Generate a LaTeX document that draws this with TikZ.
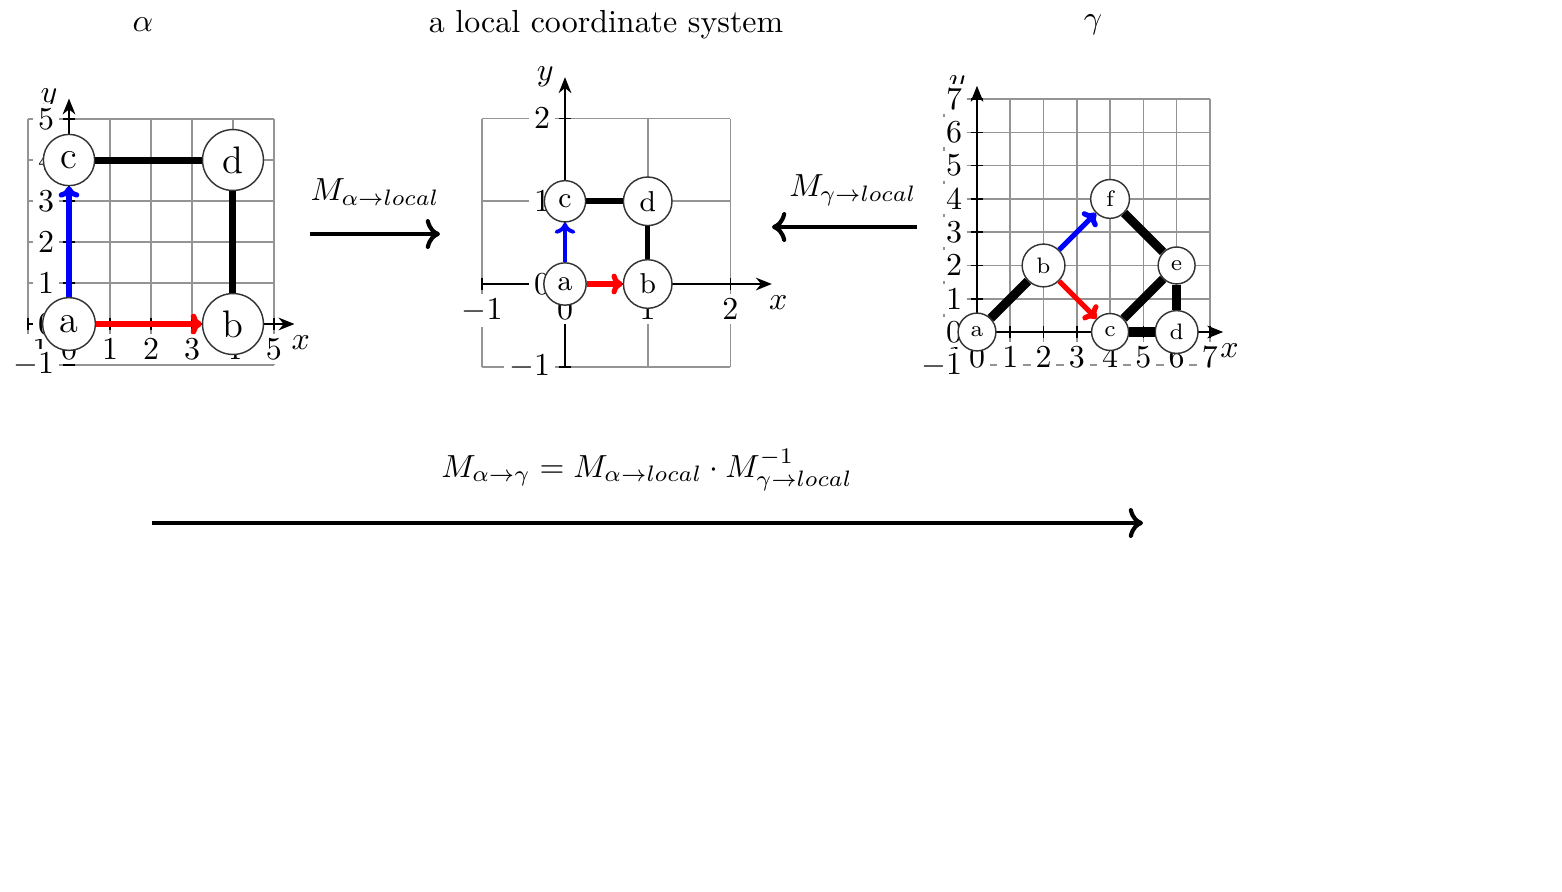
\documentclass[tikz,border=0pt]{standalone}
\usetikzlibrary{arrows.meta}
\tikzset{
  gridline/.style={draw=black!42, line width=0.5pt},
  axisline/.style={-{Stealth[length=5pt,width=4pt]}, line width=0.5pt},
  ticklab/.style={fill=white, inner sep=1.5pt},
  vertex/.style={circle, draw=black!80, fill=white, line width=0.45pt},
  vtxbig/.style={vertex, font=\large, inner sep=3pt},
  vtxmid/.style={vertex, font=\small, inner sep=2.5pt},
  vtxsmall/.style={vertex, font=\scriptsize, inner sep=2.4pt},
  bond/.style={line width=#1}, bond/.default=2pt,
  redvec/.style={-{To[length=3.5pt,width=6.5pt]}, draw=red, line width=#1}, redvec/.default=1.6pt,
  bluevec/.style={-{To[length=3.5pt,width=6.5pt]}, draw=blue, line width=#1}, bluevec/.default=1.6pt,
  maparrow/.style={->, line width=1.3pt}
}
% grid, axes and tick labels of one frame: prefix, low, high, axis end
\newcommand{\coordframe}[4]{%
  \draw[gridline, step=1] (#2,#2) grid (#3,#3);
  \draw[axisline] (#2,0) -- (#4,0) coordinate (#1xend);
  \draw[axisline] (0,#2) -- (0,#4) node[left] (#1ylab) {$y$};
  \foreach \k in {#2,...,#3} {
    \draw[line width=0.5pt] (\k,0) ++(0,2pt) -- ++(0,-4pt);
    \draw[line width=0.5pt] (0,\k) ++(2pt,0) -- ++(-4pt,0);
    \node[ticklab, below=3pt] (#1xt\k) at (\k,0) {$\k$};
    \node[ticklab, left=3pt] (#1yt\k) at (0,\k) {$\k$};
  }
  \node[below, xshift=2pt] (#1xlab) at (#1xend) {$x$};
}
\begin{document}
\begin{tikzpicture}[x=0.011cm, y=-0.011cm]
  \useasboundingbox (0,0) rectangle (1562,891);
  \node (alphatitle) at (143,25) {$\alpha$};
  \node (localtitle) at (606,25) {a local coordinate system};
  \node (gammatitle) at (1093,25) {$\gamma$};

  \coordinate (alphaorigin) at (69,324);
  \coordinate (localorigin) at (565,284);
  \coordinate (gammaorigin) at (977,332);

  % frame alpha
  \begin{scope}[shift={(alphaorigin)}, x=0.451cm, y=0.451cm]
    \coordframe{al}{-1}{5}{5.5}
    \node[vtxbig] (ala) at (0,0) {a};
    \node[vtxbig] (alb) at (4,0) {b};
    \node[vtxbig] (alc) at (0,4) {c};
    \node[vtxbig] (ald) at (4,4) {d};
    \draw[bond=2.2pt] (alc) -- (ald);
    \draw[bond=2.2pt] (ald) -- (alb);
    \draw[redvec=1.8pt] (ala) -- (alb);
    \draw[bluevec=1.6pt] (ala) -- (alc);
  \end{scope}

  % local frame
  \begin{scope}[shift={(localorigin)}, x=0.91cm, y=0.91cm]
    \coordframe{lo}{-1}{2}{2.5}
    \node[vtxmid] (loa) at (0,0) {a};
    \node[vtxmid] (lob) at (1,0) {b};
    \node[vtxmid] (loc) at (0,1) {c};
    \node[vtxmid] (lod) at (1,1) {d};
    \draw[bond=1.8pt] (loc) -- (lod);
    \draw[bond=1.4pt] (lod) -- (lob);
    \draw[redvec=1.6pt] (loa) -- (lob);
    \draw[bluevec=1.2pt] (loa) -- (loc);
  \end{scope}

  % frame gamma
  \begin{scope}[shift={(gammaorigin)}, x=0.366cm, y=0.366cm]
    \coordframe{ga}{-1}{7}{7.4}
    \node[vtxsmall] (gaa) at (0,0) {a};
    \node[vtxsmall] (gab) at (2,2) {b};
    \node[vtxsmall] (gac) at (4,0) {c};
    \node[vtxsmall] (gad) at (6,0) {d};
    \node[vtxsmall] (gae) at (6,2) {e};
    \node[vtxsmall] (gaf) at (4,4) {f};
    \draw[bond=2.8pt] (gaa) -- (gab);
    \draw[bond=2.8pt] (gaf) -- (gae);
    \draw[bond=2.8pt] (gae) -- (gac);
    \draw[bond=3pt] (gac) -- (gad);
    \draw[bond=2.6pt] (gae) -- (gad);
    \draw[bluevec] (gab) -- (gaf);
    \draw[redvec] (gab) -- (gac);
  \end{scope}

  % maps between the frames
  \node (mapalpha) at (375,192) {$M_{\alpha\rightarrow local}$};
  \coordinate (alphafrom) at (310,234);
  \coordinate (alphato) at (440,234);
  \draw[maparrow] (alphafrom) -- (alphato);

  \node (mapgamma) at (853,190) {$M_{\gamma\rightarrow local}$};
  \coordinate (gammafrom) at (917,227);
  \coordinate (gammato) at (772,227);
  \draw[maparrow] (gammafrom) -- (gammato);

  \node (mapformula) at (647,470) {$M_{\alpha\rightarrow\gamma} = M_{\alpha\rightarrow local}\cdot M^{-1}_{\gamma\rightarrow local}$};
  \coordinate (totalfrom) at (152,523);
  \coordinate (totalto) at (1143,523);
  \draw[maparrow] (totalfrom) -- (totalto);
\end{tikzpicture}
\end{document}
